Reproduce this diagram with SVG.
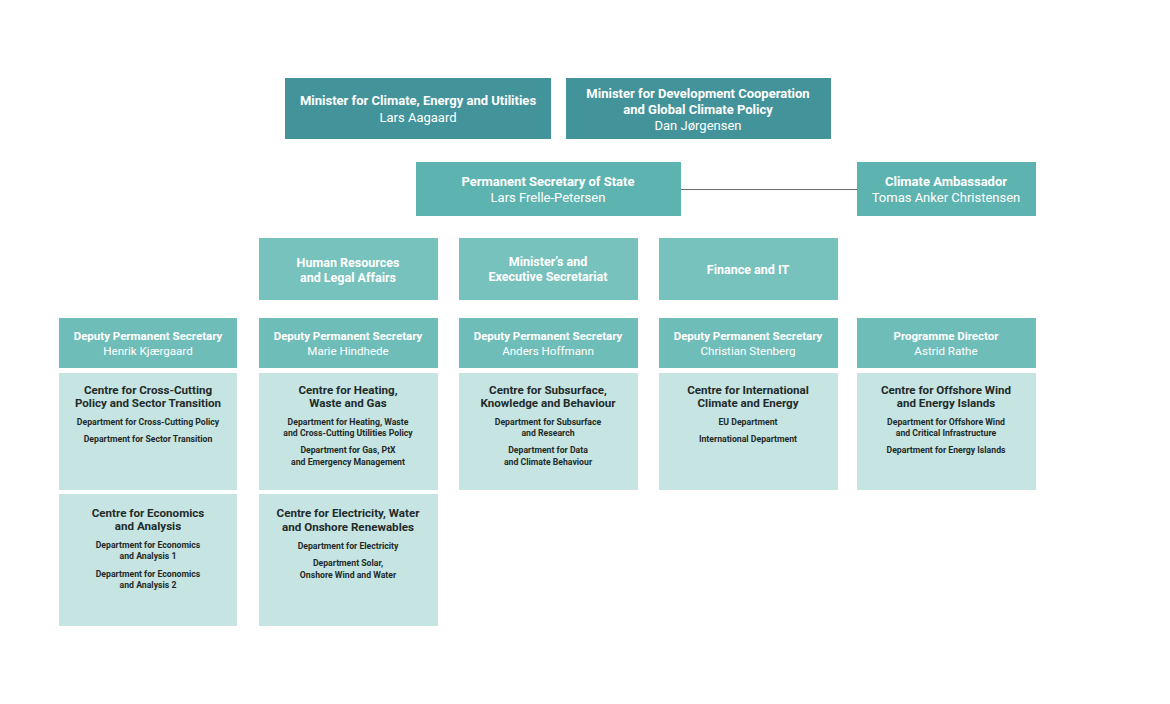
<svg xmlns="http://www.w3.org/2000/svg" width="1170" height="704" viewBox="0 0 1170 704">
<style>
text{font-family:Roboto,"Liberation Sans",Arial,sans-serif;text-anchor:middle}
.min{fill:#43939a}
.ps{fill:#5db3b0}
.sup{fill:#77c2bd}
.dep{fill:#6fbdb8}
.cen{fill:#c6e4e1}
.wt{fill:#ffffff;font-size:13px;font-weight:700}
.wn{fill:#ffffff;font-size:13px;font-weight:400}
.ut{fill:#ffffff;font-size:12.5px;font-weight:700}
.st{fill:#ffffff;font-size:11.5px;font-weight:700}
.sn{fill:#ffffff;font-size:11.6px;font-weight:400}
.ct{fill:#1f2b2b;font-size:11.6px;font-weight:700}
.dt{fill:#1f2b2b;font-size:8.7px;font-weight:700}
.conn{stroke:#6a6a6a;stroke-width:1.2;fill:none}
</style>
<rect width="1170" height="704" fill="#ffffff"/>
<g id="connectors">
<line class="conn" x1="681" y1="189.5" x2="857" y2="189.5"/>
</g>
<g id="minister-climate">
<rect class="min" x="285" y="78" width="266" height="61"/>
<text class="wt" x="418" y="105">Minister for Climate, Energy and Utilities</text>
<text class="wn" x="418" y="121.5">Lars Aagaard</text>
</g>
<g id="minister-development">
<rect class="min" x="566" y="78" width="265" height="61"/>
<text class="wt" x="698" y="97.5">Minister for Development Cooperation</text>
<text class="wt" x="698" y="113.5">and Global Climate Policy</text>
<text class="wn" x="698" y="129.5">Dan Jørgensen</text>
</g>
<g id="permanent-secretary">
<rect class="ps" x="416" y="162" width="265" height="54"/>
<text class="wt" x="548" y="186">Permanent Secretary of State</text>
<text class="wn" x="548" y="202">Lars Frelle-Petersen</text>
</g>
<g id="climate-ambassador">
<rect class="ps" x="857" y="162" width="179" height="54"/>
<text class="wt" x="946" y="186">Climate Ambassador</text>
<text class="wn" x="946" y="202">Tomas Anker Christensen</text>
</g>
<g id="hr-legal">
<rect class="sup" x="259" y="238" width="179" height="62"/>
<text class="ut" x="348" y="267">Human Resources</text>
<text class="ut" x="348" y="281.5">and Legal Affairs</text>
</g>
<g id="ministers-secretariat">
<rect class="sup" x="459" y="238" width="179" height="62"/>
<text class="ut" x="548" y="265.5">Minister’s and</text>
<text class="ut" x="548" y="280.5">Executive Secretariat</text>
</g>
<g id="finance-it">
<rect class="sup" x="659" y="238" width="179" height="62"/>
<text class="ut" x="748" y="273.5">Finance and IT</text>
</g>
<g id="deputy-kjaergaard">
<rect class="dep" x="59" y="318" width="178" height="50"/>
<text class="st" x="148" y="339.5">Deputy Permanent Secretary</text>
<text class="sn" x="148" y="354.5">Henrik Kjærgaard</text>
</g>
<g id="deputy-hindhede">
<rect class="dep" x="259" y="318" width="179" height="50"/>
<text class="st" x="348" y="339.5">Deputy Permanent Secretary</text>
<text class="sn" x="348" y="354.5">Marie Hindhede</text>
</g>
<g id="deputy-hoffmann">
<rect class="dep" x="459" y="318" width="179" height="50"/>
<text class="st" x="548" y="339.5">Deputy Permanent Secretary</text>
<text class="sn" x="548" y="354.5">Anders Hoffmann</text>
</g>
<g id="deputy-stenberg">
<rect class="dep" x="659" y="318" width="179" height="50"/>
<text class="st" x="748" y="339.5">Deputy Permanent Secretary</text>
<text class="sn" x="748" y="354.5">Christian Stenberg</text>
</g>
<g id="programme-director">
<rect class="dep" x="857" y="318" width="179" height="50"/>
<text class="st" x="946" y="339.5">Programme Director</text>
<text class="sn" x="946" y="354.5">Astrid Rathe</text>
</g>
<g id="centre-cross-cutting">
<rect class="cen" x="59" y="373" width="178" height="117"/>
<text class="ct" x="148" y="394">Centre for Cross-Cutting</text>
<text class="ct" x="148" y="407">Policy and Sector Transition</text>
<text class="dt" x="148" y="424.5">Department for Cross-Cutting Policy</text>
<text class="dt" x="148" y="441.5">Department for Sector Transition</text>
</g>
<g id="centre-heating">
<rect class="cen" x="259" y="373" width="179" height="117"/>
<text class="ct" x="348" y="394">Centre for Heating,</text>
<text class="ct" x="348" y="407">Waste and Gas</text>
<text class="dt" x="348" y="424.5">Department for Heating, Waste</text>
<text class="dt" x="348" y="436">and Cross-Cutting Utilities Policy</text>
<text class="dt" x="348" y="453">Department for Gas, PtX</text>
<text class="dt" x="348" y="464.5">and Emergency Management</text>
</g>
<g id="centre-subsurface">
<rect class="cen" x="459" y="373" width="179" height="117"/>
<text class="ct" x="548" y="394">Centre for Subsurface,</text>
<text class="ct" x="548" y="407">Knowledge and Behaviour</text>
<text class="dt" x="548" y="424.5">Department for Subsurface</text>
<text class="dt" x="548" y="436">and Research</text>
<text class="dt" x="548" y="453">Department for Data</text>
<text class="dt" x="548" y="464.5">and Climate Behaviour</text>
</g>
<g id="centre-international">
<rect class="cen" x="659" y="373" width="179" height="117"/>
<text class="ct" x="748" y="394">Centre for International</text>
<text class="ct" x="748" y="407">Climate and Energy</text>
<text class="dt" x="748" y="424.5">EU Department</text>
<text class="dt" x="748" y="441.5">International Department</text>
</g>
<g id="centre-offshore">
<rect class="cen" x="857" y="373" width="179" height="117"/>
<text class="ct" x="946" y="394">Centre for Offshore Wind</text>
<text class="ct" x="946" y="407">and Energy Islands</text>
<text class="dt" x="946" y="424.5">Department for Offshore Wind</text>
<text class="dt" x="946" y="436">and Critical Infrastructure</text>
<text class="dt" x="946" y="453">Department for Energy Islands</text>
</g>
<g id="centre-economics">
<rect class="cen" x="59" y="494" width="178" height="132"/>
<text class="ct" x="148" y="516.5">Centre for Economics</text>
<text class="ct" x="148" y="529.5">and Analysis</text>
<text class="dt" x="148" y="547.5">Department for Economics</text>
<text class="dt" x="148" y="559">and Analysis 1</text>
<text class="dt" x="148" y="576.5">Department for Economics</text>
<text class="dt" x="148" y="588">and Analysis 2</text>
</g>
<g id="centre-electricity">
<rect class="cen" x="259" y="494" width="179" height="132"/>
<text class="ct" x="348" y="516.5">Centre for Electricity, Water</text>
<text class="ct" x="348" y="531">and Onshore Renewables</text>
<text class="dt" x="348" y="548.5">Department for Electricity</text>
<text class="dt" x="348" y="566">Department Solar,</text>
<text class="dt" x="348" y="577.5">Onshore Wind and Water</text>
</g>
</svg>
